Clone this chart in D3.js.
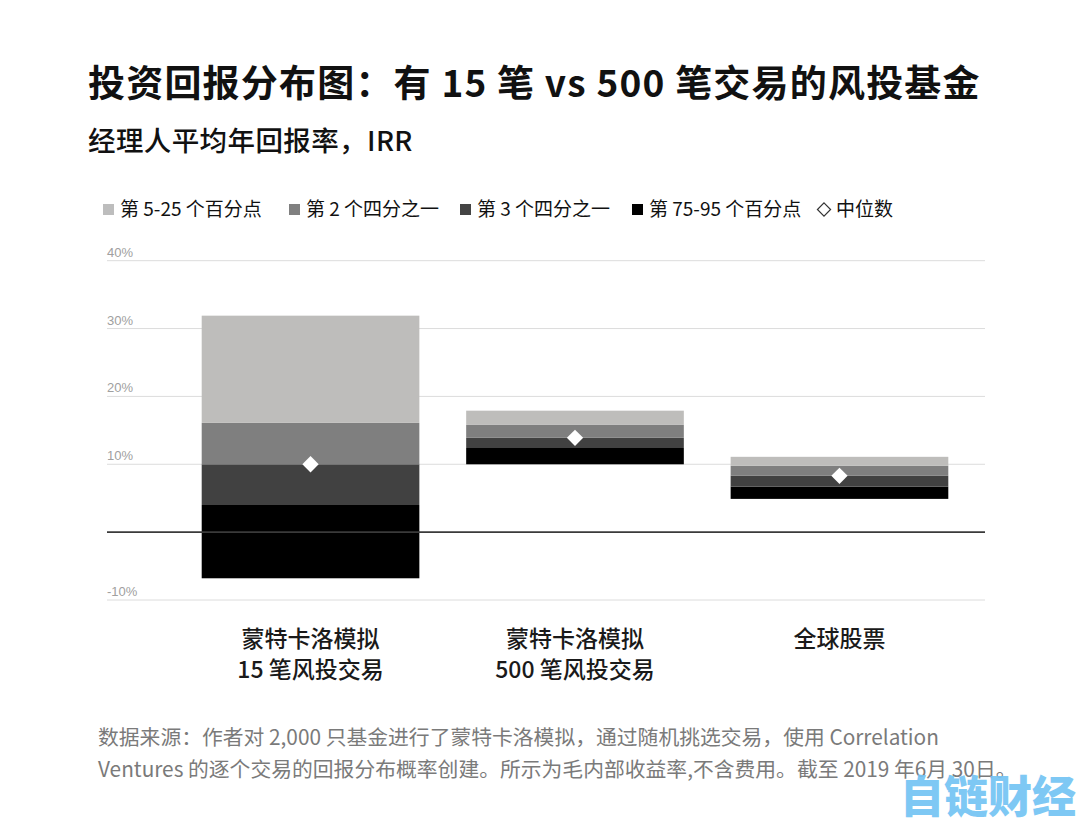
<!DOCTYPE html>
<html><head><meta charset="utf-8">
<script src="https://cdn.jsdelivr.net/npm/d3@7"></script>
<style>
html,body{margin:0;padding:0;background:#fff;}
svg{display:block;font-family:"Noto Sans CJK SC","Noto Sans",sans-serif;}
</style></head>
<body>
<svg id="c" width="1080" height="832"></svg>
<script>
const title = "投资回报分布图：有 15 笔 vs 500 笔交易的风投基金";
const subtitle = "经理人平均年回报率，IRR";
const categories = [["蒙特卡洛模拟","15 笔风投交易"],["蒙特卡洛模拟","500 笔风投交易"],["全球股票"]];
const p5 = [-6.8, 10.0, 4.9];
const p25 = [4.0, 12.4, 6.7];
const median = [10.0, 13.9, 8.3];
const p75 = [16.1, 15.8, 9.8];
const p95 = [31.9, 17.9, 11.1];
const yTicks = [-10, 10, 20, 30, 40];
const legendLabels = ["第 5-25 个百分点","第 2 个四分之一","第 3 个四分之一","第 75-95 个百分点","中位数"];
const segColors = ["#000000","#414141","#7f7f7f","#bebdbb"];
const legendColors = ["#bdbdbd","#808080","#444444","#000000"];
const footer = ["数据来源：作者对 2,000 只基金进行了蒙特卡洛模拟，通过随机挑选交易，使用 Correlation",
                "Ventures 的逐个交易的回报分布概率创建。所示为毛内部收益率,不含费用。截至 2019 年6月 30日。"];

const svg = d3.select("#c");
const y = d3.scaleLinear().domain([-10, 40]).range([600, 260.7]);
const x = d3.scaleBand().domain(d3.range(categories.length)).range([201.7, 948.3]).paddingInner(0.177).paddingOuter(0);
const gx0 = 107, gx1 = 985;

// title
svg.append("text").attr("x", 88).attr("y", 97).attr("font-size", 37).attr("font-weight", 700)
  .attr("letter-spacing", 1.2).attr("fill", "#111").text(title);
svg.append("text").attr("x", 88).attr("y", 151).attr("font-size", 27.5).attr("font-weight", 500)
  .attr("letter-spacing", 0.4).attr("fill", "#111").text(subtitle);

// legend
const legX = [103, 289, 460, 632];
legendLabels.forEach((l, i) => {
  if (i < 4) {
    svg.append("rect").attr("x", legX[i]).attr("y", 204).attr("width", 11).attr("height", 11).attr("fill", legendColors[i]);
    svg.append("text").attr("x", legX[i] + 17).attr("y", 216).attr("font-size", 19).attr("fill", "#111").text(l);
  } else {
    const cx = 824, cy = 209.5;
    svg.append("path").attr("d", d3.symbol().type(d3.symbolDiamond2).size(110)())
      .attr("transform", `translate(${cx},${cy})`).attr("fill", "#fff").attr("stroke", "#333").attr("stroke-width", 1.2);
    svg.append("text").attr("x", 836).attr("y", 216).attr("font-size", 19).attr("fill", "#111").text(l);
  }
});

// gridlines
const g = svg.append("g");
yTicks.forEach(t => {
  g.append("line").attr("x1", gx0).attr("x2", gx1).attr("y1", y(t)).attr("y2", y(t)).attr("stroke", "#dcdcdc").attr("stroke-width", 1);
  g.append("text").attr("x", gx0).attr("y", y(t) - 4).attr("font-size", 13).attr("fill", "#a0a0a0")
    .attr("font-family", "'Liberation Sans', Arial, sans-serif").text(t + "%");
});

// bars
categories.forEach((c, i) => {
  const bounds = [p5[i], p25[i], median[i], p75[i], p95[i]];
  for (let k = 0; k < 4; k++) {
    svg.append("rect").attr("x", x(i)).attr("width", x.bandwidth())
      .attr("y", y(bounds[k + 1])).attr("height", y(bounds[k]) - y(bounds[k + 1]))
      .attr("fill", segColors[k]);
  }
});

// zero line
svg.append("line").attr("x1", gx0).attr("x2", gx1).attr("y1", y(0)).attr("y2", y(0)).attr("stroke", "#3a3a3a").attr("stroke-width", 1.6);

// medians
categories.forEach((c, i) => {
  svg.append("path").attr("d", d3.symbol().type(d3.symbolDiamond2).size(170)())
    .attr("transform", `translate(${x(i) + x.bandwidth() / 2},${y(median[i])})`).attr("fill", "#fff");
});

// category labels
categories.forEach((c, i) => {
  c.forEach((line, j) => {
    svg.append("text").attr("x", x(i) + x.bandwidth() / 2).attr("y", 647 + j * 31)
      .attr("text-anchor", "middle").attr("font-size", 23).attr("font-weight", 500).attr("fill", "#1a1a1a").text(line);
  });
});

// footer
footer.forEach((f, j) => {
  svg.append("text").attr("x", 98).attr("y", 745 + j * 32).attr("font-size", 20.8).attr("fill", "#7a7a7a").text(f);
});

// watermark
svg.append("text").attr("x", 1076).attr("y", 813).attr("text-anchor", "end").attr("font-size", 44).attr("font-weight", 900)
  .attr("fill", "#74c4f4").attr("opacity", 0.92).text("自链财经");
</script>
</body></html>
